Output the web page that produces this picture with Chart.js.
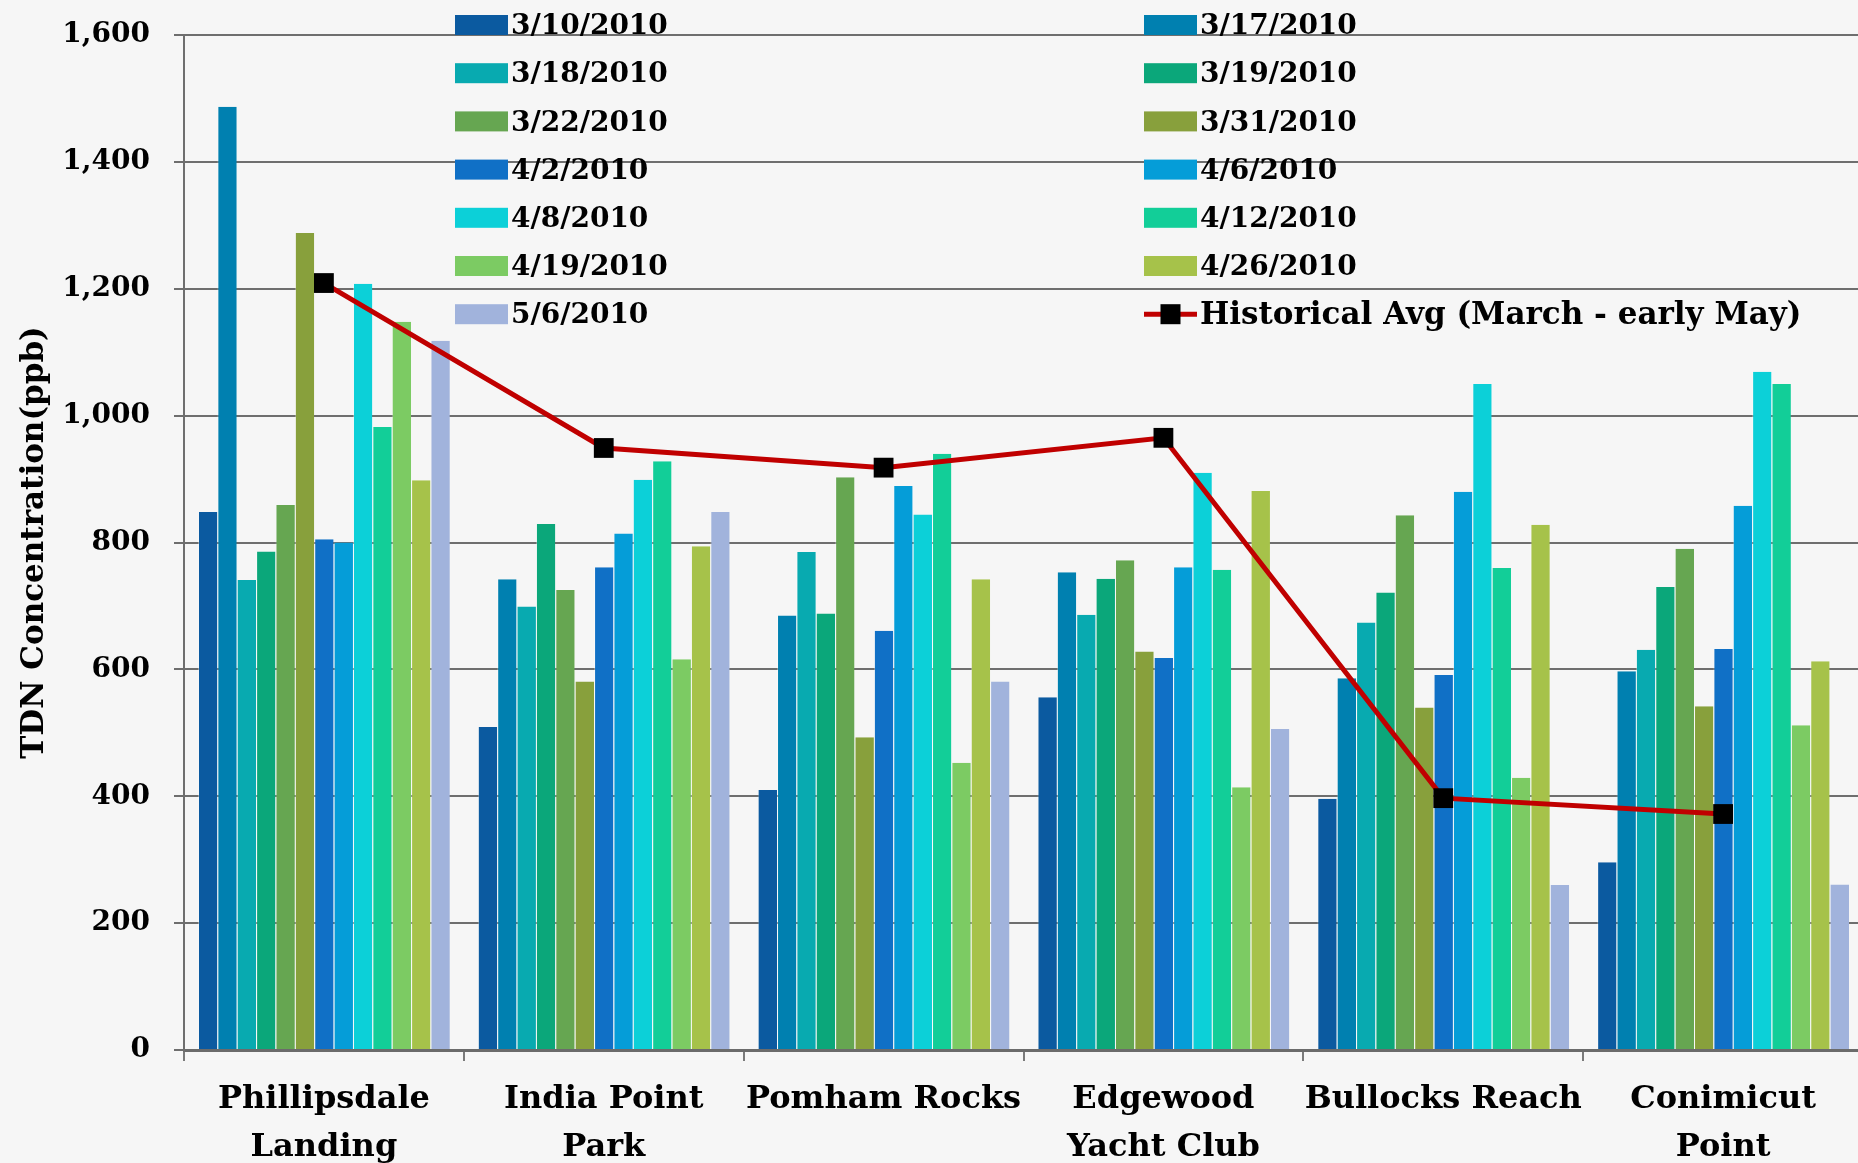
<!DOCTYPE html>
<html>
<head>
<meta charset="utf-8">
<script src="https://cdn.jsdelivr.net/npm/chart.js@4/dist/chart.umd.min.js"></script>
<style>
  html, body { margin: 0; padding: 0; overflow: hidden; background: #f6f6f6; }
  #wrap { width: 1877px; height: 1163px; }
</style>
</head>
<body>
<div id="wrap"><canvas id="c" width="1877" height="1163"></canvas></div>
<script>
// Sampling stations
const sites = [
  ["Phillipsdale", "Landing"],
  ["India Point", "Park"],
  "Pomham Rocks",
  ["Edgewood", "Yacht Club"],
  "Bullocks Reach",
  ["Conimicut", "Point"]
];

// Sampling dates
const dates = ["3/10/2010", "3/17/2010", "3/18/2010", "3/19/2010", "3/22/2010", "3/31/2010",
               "4/2/2010", "4/6/2010", "4/8/2010", "4/12/2010", "4/19/2010", "4/26/2010", "5/6/2010"];

// TDN (ppb) per date, one value per station
const tdn_0310 = [848, 509, 410, 556, 396, 296];
const tdn_0317 = [1487, 742, 685, 753, 586, 597];
const tdn_0318 = [741, 699, 785, 686, 674, 631];
const tdn_0319 = [786, 829, 688, 743, 721, 730];
const tdn_0322 = [859, 725, 903, 772, 843, 790];
const tdn_0331 = [1288, 581, 493, 628, 540, 542];
const tdn_0402 = [805, 761, 661, 618, 591, 632];
const tdn_0406 = [800, 814, 889, 761, 880, 858];
const tdn_0408 = [1208, 899, 844, 910, 1050, 1069];
const tdn_0412 = [982, 928, 940, 757, 760, 1050];
const tdn_0419 = [1148, 616, 453, 414, 429, 512];
const tdn_0426 = [898, 794, 742, 881, 828, 613];
const tdn_0506 = [1118, 848, 581, 506, 260, 261];

// Historical average, March - early May
const histLabel = "Historical Avg (March - early May)";
const histAvg = [1209, 949, 918, 965, 397, 372];

const yTicks = { min: 0, max: 1600, step: 200 };

const seriesValues = [tdn_0310, tdn_0317, tdn_0318, tdn_0319, tdn_0322, tdn_0331,
                      tdn_0402, tdn_0406, tdn_0408, tdn_0412, tdn_0419, tdn_0426, tdn_0506];

const palette = ["#0b5aa0", "#0080b0", "#08aab0", "#0ba77a", "#66a651", "#88a03c",
                 "#1070c6", "#059dd8", "#0cd0d8", "#12ce98", "#7ccb63", "#a6c24a", "#a1b3dc"];

const FONT = "'DejaVu Serif', 'Liberation Serif', serif";

const datasets = dates.map((d, i) => ({
  type: 'bar',
  label: d,
  data: seriesValues[i],
  backgroundColor: palette[i],
  borderColor: 'rgba(255,255,255,0.35)',
  borderWidth: { left: 1, right: 0, top: 0, bottom: 0 },
  barPercentage: 1.0,
  categoryPercentage: 0.9,
  order: 1
}));

datasets.push({
  type: 'line',
  label: histLabel,
  data: histAvg,
  borderColor: '#c00000',
  borderWidth: 5,
  pointStyle: 'rect',
  pointRadius: 14,
  pointBackgroundColor: '#000000',
  pointBorderColor: '#000000',
  pointBorderWidth: 0,
  tension: 0,
  order: 0
});

// Page background
const backdrop = {
  id: 'backdrop',
  beforeDraw(chart) {
    const ctx = chart.ctx;
    ctx.save();
    ctx.fillStyle = '#f6f6f6';
    ctx.fillRect(0, 0, chart.width, chart.height);
    ctx.restore();
  }
};

// Two-column legend laid over the top of the plot
const gridLegend = {
  id: 'gridLegend',
  afterDraw(chart) {
    const ctx = chart.ctx;
    const colX = [455, 1144];
    const rowY0 = 25, rowStep = 48.2;
    const sw = 53, sh = 20;
    ctx.save();
    ctx.textBaseline = 'middle';
    ctx.textAlign = 'left';
    chart.data.datasets.forEach((ds, i) => {
      const col = i % 2, row = Math.floor(i / 2);
      const x = colX[col], y = rowY0 + row * rowStep;
      if (ds.type === 'line') {
        ctx.strokeStyle = ds.borderColor;
        ctx.lineWidth = 5;
        ctx.beginPath();
        ctx.moveTo(x, y);
        ctx.lineTo(x + sw, y);
        ctx.stroke();
        ctx.fillStyle = '#000';
        ctx.fillRect(x + sw / 2 - 10, y - 10, 20, 20);
        ctx.font = `bold 31px ${FONT}`;
      } else {
        ctx.fillStyle = ds.backgroundColor;
        ctx.fillRect(x, y - sh / 2, sw, sh);
        ctx.font = `bold 28px ${FONT}`;
      }
      ctx.fillStyle = '#000';
      ctx.fillText(ds.label, x + sw + 3, y + 2);
    });
    ctx.restore();
  }
};

new Chart(document.getElementById('c'), {
  data: { labels: sites, datasets },
  options: {
    responsive: false,
    animation: false,
    layout: { padding: { top: 35, right: 0, bottom: 0, left: 0 } },
    plugins: {
      legend: { display: false },
      tooltip: { enabled: false }
    },
    scales: {
      x: {
        type: 'category',
        offset: true,
        grid: {
          offset: true,
          drawOnChartArea: false,
          drawTicks: true,
          tickLength: 11,
          color: '#7a7a7a',
          lineWidth: 2
        },
        border: { display: true, color: '#6b6b6b', width: 3 },
        ticks: {
          color: '#000',
          padding: 15,
          maxRotation: 0,
          autoSkip: false,
          font: { family: FONT, size: 32, weight: 'bold', lineHeight: 1.5 }
        },
        afterFit(scale) { scale.height = 113; }
      },
      y: {
        min: yTicks.min,
        max: yTicks.max,
        grid: {
          color: '#6e6e6e',
          lineWidth: 2,
          drawTicks: true,
          tickLength: 10
        },
        border: { display: true, color: '#6e6e6e', width: 2 },
        ticks: {
          stepSize: yTicks.step,
          color: '#000',
          padding: 24,
          font: { family: FONT, size: 28, weight: 'bold' },
          callback: (v) => v.toLocaleString('en-US')
        },
        title: {
          display: true,
          text: 'TDN Concentration(ppb)',
          color: '#000',
          padding: { top: 16, bottom: 0 },
          font: { family: FONT, size: 31, weight: 'bold' }
        },
        afterFit(scale) {
          scale.width = 184;
          scale.paddingTop = 0;
          scale.paddingBottom = 0;
        }
      }
    }
  },
  plugins: [backdrop, gridLegend]
});
</script>
</body>
</html>
